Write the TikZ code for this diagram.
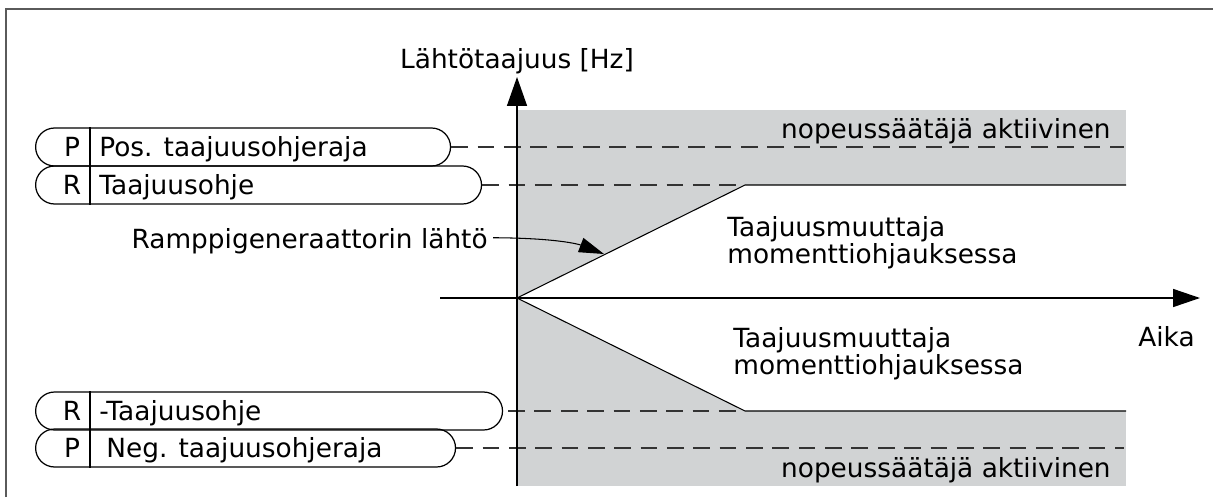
\documentclass[tikz,border=0pt]{standalone}
\usepackage{fontspec}
\setmainfont{DejaVu Sans}
\usetikzlibrary{arrows.meta, positioning}
\definecolor{zonegray}{RGB}{209,211,212}
\definecolor{framegray}{RGB}{90,90,90}
\tikzset{
	pill/.style={draw, line width=0.7pt, rounded corners=0.38cm, minimum height=0.76cm, inner sep=0pt, anchor=west},
	lbl/.style={font=\fontsize{15pt}{15.3pt}\selectfont, inner sep=0pt},
	limitline/.style={draw=black!80, line width=0.7pt, dash pattern=on 9.5pt off 5.5pt},
	rampline/.style={line width=0.6pt},
}

\begin{document}
\begin{tikzpicture}[
		x=0.02cm, y=-0.02cm,
		axisline/.style={line width=0.85pt},
		>=Stealth
	]
	\useasboundingbox (0,0) rectangle (1213,497);
	% Frame
	\draw[framegray, line width=0.8pt] (6,497) -- (6,9) -- (1213,9);

	% Speed controller zone and torque control wedge
	\coordinate (o) at (517,298);
	\coordinate (up) at (745,185);
	\coordinate (upend) at (1126,185);
	\coordinate (dn) at (745,411);
	\coordinate (dnend) at (1126,411);
	\fill[zonegray] (517,110) rectangle (1126,486);
	\fill[white] (o) -- (up) -- (upend) -- (dnend) -- (dn) -- cycle;

	% Reference pills
	\node[pill, minimum width=8.3cm] (pos) at (35,147) {};
	\node[pill, minimum width=8.92cm] (taj) at (35,185) {};
	\node[pill, minimum width=9.34cm] (ntaj) at (35,411) {};
	\node[pill, minimum width=8.4cm] (neg) at (35,448) {};
	\coordinate (sep) at (90,0);
	\foreach \p in {pos, taj, ntaj, neg}
		\draw[line width=0.6pt] (sep |- \p.north) -- (sep |- \p.south);

	\node[lbl, anchor=base] (posp) at (72,156) {P};
	\node[lbl, anchor=base west] (postxt) at (99,156) {Pos. taajuusohjeraja};
	\node[lbl, anchor=base] (tajr) at (72,194) {R};
	\node[lbl, anchor=base west] (tajtxt) at (99,194) {Taajuusohje};
	\node[lbl, anchor=base] (ntajr) at (72,420) {R};
	\node[lbl, anchor=base west] (ntajtxt) at (99,420) {-Taajuusohje};
	\node[lbl, anchor=base] (negp) at (72,457) {P};
	\node[lbl, anchor=base west] (negtxt) at (106,457) {Neg. taajuusohjeraja};

	% Limit lines
	\coordinate (posend) at (1124,147);
	\coordinate (negend) at (1124,448);
	\draw[limitline] (pos.east) -- (posend);
	\draw[limitline] (taj.east) -- (up);
	\draw[limitline] ([xshift=0.1cm]ntaj.east) -- (dn);
	\draw[limitline] (neg.east) -- (negend);

	% Ramps
	\draw[rampline] (o) -- (up) -- (upend);
	\draw[rampline] (o) -- (dn) -- (dnend);

	% Axes
	\draw[axisline, -{Triangle[length=0.58cm, width=0.4cm]}] (517,486) -- (517,77);
	\draw[axisline, -{Triangle[length=0.54cm, width=0.36cm]}] (440,298) -- (1200,298);
	\node[lbl, anchor=base] (ytitle) at (517,68) {Lähtötaajuus [Hz]};
	\node[lbl, anchor=base west] (xtitle) at (1138,346) {Aika};

	% Zone texts
	\node[lbl, anchor=base east] (zoneup) at (1111,138) {nopeussäätäjä aktiivinen};
	\node[lbl, anchor=base east] (zonedn) at (1111,477) {nopeussäätäjä aktiivinen};
	\node[lbl, anchor=north west, align=left] (tqup) at (727,216) {Taajuusmuuttaja\\momenttiohjauksessa};
	\node[lbl, anchor=north west, align=left] (tqdn) at (733,327) {Taajuusmuuttaja\\momenttiohjauksessa};

	% Ramp generator output
	\node[lbl, anchor=base east] (ramp) at (488,248) {Ramppigeneraattorin lähtö};
	\coordinate (rtip) at (604,254);
	\draw[rampline, -{Triangle[length=0.5cm, width=0.3cm]}] ([xshift=0.1cm, yshift=0.06cm]ramp.east) .. controls (555,238) and (578,244) .. (rtip);
\end{tikzpicture}
\end{document}
